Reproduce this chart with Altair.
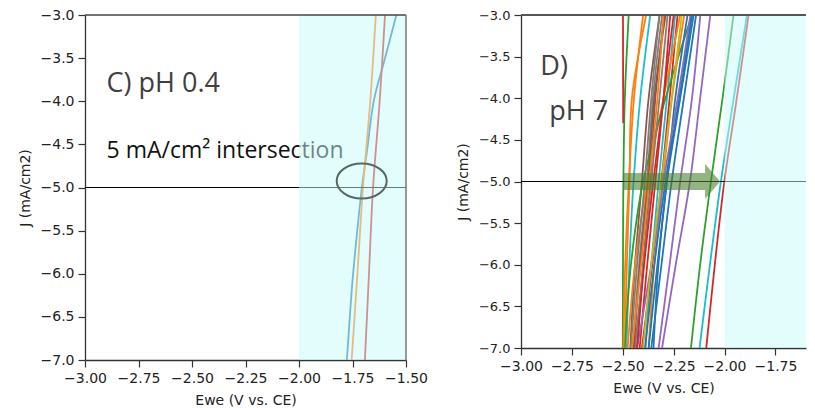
import altair as alt
import pandas as pd

# ---------------- Panel C (pH 0.4) ----------------
C_J_blue = [-3.0, -3.52, -3.99, -4.57, -5.0, -5.53, -6.11, -6.98, -7.0]
C_blue = [-1.545, -1.600, -1.650, -1.682, -1.706, -1.729, -1.751, -1.776, -1.777]
C_J = [-3.0, -4.0, -5.0, -6.0, -7.0]
C_orange = [-1.641, -1.667, -1.701, -1.727, -1.754]
C_red = [-1.598, -1.623, -1.654, -1.673, -1.692]

# ---------------- Panel D (pH 7) ----------------
D_J = [-3.0, -4.0, -5.0, -6.0, -7.0]
D_curves = [
    [-2.471, -2.490, -2.497, -2.499, -2.500],
    [-2.385, -2.455, -2.467, -2.480, -2.490],
    [-2.365, -2.414, -2.447, -2.468, -2.482],
    [-2.319, -2.373, -2.406, -2.440, -2.463],
    [-2.307, -2.352, -2.381, -2.420, -2.450],
    [-2.296, -2.340, -2.365, -2.400, -2.430],
    [-2.267, -2.300, -2.340, -2.380, -2.417],
    [-2.243, -2.283, -2.324, -2.360, -2.389],
    [-2.231, -2.270, -2.310, -2.355, -2.406],
    [-2.218, -2.300, -2.380, -2.440, -2.476],
    [-2.160, -2.290, -2.400, -2.460, -2.490],
    [-2.198, -2.258, -2.303, -2.345, -2.373],
    [-2.182, -2.242, -2.283, -2.330, -2.373],
    [-2.152, -2.218, -2.283, -2.325, -2.349],
    [-2.168, -2.230, -2.300, -2.360, -2.430],
    [-2.119, -2.160, -2.218, -2.270, -2.324],
    [-2.070, -2.120, -2.170, -2.240, -2.307],
    [-2.280, -2.320, -2.360, -2.400, -2.440],
    [-2.210, -2.260, -2.310, -2.360, -2.400],
    [-2.140, -2.200, -2.260, -2.310, -2.360],
    [-2.250, -2.300, -2.350, -2.395, -2.430],
    [-2.400, -2.445, -2.470, -2.488, -2.497],
    [-2.320, -2.360, -2.392, -2.430, -2.460],
    [-2.160, -2.222, -2.290, -2.345, -2.390],
    [-2.290, -2.345, -2.375, -2.415, -2.445],
    [-2.300, -2.330, -2.370, -2.410, -2.455],
    [-1.956, -2.010, -2.067, -2.120, -2.165],
    [-1.890, -1.955, -2.018, -2.072, -2.123],
    [-1.882, -1.940, -2.001, -2.048, -2.090],
]
D_colors = [
    "#2ca02c", "#ff7f0e", "#17becf", "#8c564b", "#7f7f7f", "#8c564b",
    "#d62728", "#17becf", "#d62728", "#ff7f0e", "#2ca02c", "#ff7f0e",
    "#1f77b4", "#1f77b4", "#9467bd", "#9467bd", "#9467bd", "#7f7f7f",
    "#bcbd22", "#1f77b4", "#d62728", "#ff7f0e", "#7f7f7f", "#1f77b4",
    "#8c564b", "#ff7f0e", "#2ca02c", "#17becf", "#d62728",
]
D_short_J = [-3.0, -4.3]
D_short_x = [-2.499, -2.498]

x_ticks_C = [-3.0, -2.75, -2.5, -2.25, -2.0, -1.75, -1.5]
x_ticks_D = [-3.0, -2.75, -2.5, -2.25, -2.0, -1.75]
y_ticks = [-7.0, -6.5, -6.0, -5.5, -5.0, -4.5, -4.0, -3.5, -3.0]

# ---------- build tables ----------
rows = []
for name, js, xs, col in [("blue", C_J_blue, C_blue, "#1f77b4"),
                          ("orange", C_J, C_orange, "#ff7f0e"),
                          ("red", C_J, C_red, "#d62728")]:
    for i, (j, x) in enumerate(zip(js, xs)):
        rows.append({"s": name, "i": i, "x": x, "y": j, "c": col})
dfC = pd.DataFrame(rows)

rows = []
for k, (xs, col) in enumerate(zip(D_curves, D_colors)):
    for i, (j, x) in enumerate(zip(D_J, xs)):
        rows.append({"s": f"d{k}", "i": i, "x": x, "y": j, "c": col})
for i, (j, x) in enumerate(zip(D_short_J, D_short_x)):
    rows.append({"s": "short", "i": i, "x": x, "y": j, "c": "#d62728"})
dfD = pd.DataFrame(rows)

one = pd.DataFrame({"a": [0]})

ELLIPSE = ("M 1 0 C 1 0.3866 0.5523 0.7 0 0.7 C -0.5523 0.7 -1 0.3866 -1 0 "
           "C -1 -0.3866 -0.5523 -0.7 0 -0.7 C 0.5523 -0.7 1 -0.3866 1 0 Z")
ARROW = ("M -1 -0.175 L 0.69 -0.175 L 0.69 -0.36 L 1 0 L 0.69 0.36 "
         "L 0.69 0.175 L -1 0.175 Z")

TEXT_FONT = "Open Sans"
TEXT_COLOR = "#404040"


def panels(df, xdom, xticks, span_end, label_size):
    xs = alt.Scale(domain=xdom, nice=False, zero=False)
    ys = alt.Scale(domain=[-7.0, -3.0], nice=False, zero=False)
    xax = alt.Axis(values=xticks, format=".2f", title="Ewe (V vs. CE)")
    yax = alt.Axis(values=y_ticks, format=".1f", title="J (mA/cm2)",
                   labelFontSize=label_size)
    lines = alt.Chart(df).mark_line(strokeWidth=1.8, clip=True,
                                    interpolate="catmull-rom").encode(
        x=alt.X("x:Q", scale=xs, axis=xax),
        y=alt.Y("y:Q", scale=ys, axis=yax),
        detail="s:N",
        order="i:Q",
        color=alt.Color("c:N", scale=None),
    )
    rule = alt.Chart(one).mark_rule(color="black", strokeWidth=1).encode(
        y=alt.Y(datum=-5.0, scale=ys),
        x=alt.X(datum=xdom[0], scale=xs),
        x2=alt.X2(datum=xdom[1]),
    )
    span = alt.Chart(one).mark_rect(fill="#c8fafa", opacity=0.5).encode(
        x=alt.X(datum=-2.0, scale=xs),
        x2=alt.X2(datum=span_end),
        y=alt.Y(datum=-7.0, scale=ys),
        y2=alt.Y2(datum=-3.0),
    )
    return xs, ys, lines, rule, span


# ---------------- left panel ----------------
xsC, ysC, linesC, ruleC, spanC = panels(dfC, [-3.0, -1.5], x_ticks_C, -1.5, 14)
txtC1 = alt.Chart(one).mark_text(font=TEXT_FONT, fontSize=27, color=TEXT_COLOR,
                                 align="left", baseline="alphabetic").encode(
    x=alt.X(datum=-2.899, scale=xsC), y=alt.Y(datum=-3.893, scale=ysC),
    text=alt.value("C) pH 0.4"))
txtC2 = alt.Chart(one).mark_text(font=TEXT_FONT, fontSize=23, color="#111111",
                                 align="left", baseline="alphabetic").encode(
    x=alt.X(datum=-2.899, scale=xsC), y=alt.Y(datum=-4.658, scale=ysC),
    text=alt.value("5 mA/cm² intersection"))
ell = alt.Chart(one).mark_point(shape=ELLIPSE, size=2500, filled=False,
                                stroke="#566a62", strokeWidth=2, opacity=1).encode(
    x=alt.X(datum=-1.707, scale=xsC), y=alt.Y(datum=-4.925, scale=ysC))
topC = alt.Chart(one).mark_rule(color="#444444", strokeWidth=1.5).encode(
    y=alt.Y(datum=-3.0, scale=ysC),
    x=alt.X(datum=-3.0, scale=xsC), x2=alt.X2(datum=-1.5))
rightC = alt.Chart(one).mark_rule(color="#777777", strokeWidth=1.5).encode(
    x=alt.X(datum=-1.5, scale=xsC),
    y=alt.Y(datum=-7.0, scale=ysC), y2=alt.Y2(datum=-3.0))

left = alt.layer(linesC, ruleC, txtC1, txtC2, spanC, ell, topC, rightC).properties(
    width=321, height=345, view=alt.ViewBackground(stroke=None))

# ---------------- right panel ----------------
xsD, ysD, linesD, ruleD, spanD = panels(dfD, [-3.0, -1.6], x_ticks_D, -1.6, 13)
arrow = alt.Chart(one).mark_point(shape=ARROW, size=9409, filled=True,
                                  fill="#4f8232", opacity=0.6, strokeWidth=0).encode(
    x=alt.X(datum=-2.26, scale=xsD), y=alt.Y(datum=-5.0, scale=ysD))
txtD1 = alt.Chart(one).mark_text(font=TEXT_FONT, fontSize=27, color=TEXT_COLOR,
                                 align="left", baseline="alphabetic").encode(
    x=alt.X(datum=-2.905, scale=xsD), y=alt.Y(datum=-3.725, scale=ysD),
    text=alt.value("D)"))
txtD2 = alt.Chart(one).mark_text(font=TEXT_FONT, fontSize=27, color=TEXT_COLOR,
                                 align="left", baseline="alphabetic").encode(
    x=alt.X(datum=-2.861, scale=xsD), y=alt.Y(datum=-4.266, scale=ysD),
    text=alt.value("pH 7"))
topD = alt.Chart(one).mark_rule(color="#555555", strokeWidth=2).encode(
    y=alt.Y(datum=-3.0, scale=ysD),
    x=alt.X(datum=-3.0, scale=xsD), x2=alt.X2(datum=-1.6))

right = alt.layer(linesD, ruleD, spanD, arrow, txtD1, txtD2, topD).properties(
    width=285, height=333, view=alt.ViewBackground(stroke=None))

chart = alt.hconcat(left, right, spacing=28).properties(
    padding={"left": 10, "top": 0, "right": 0, "bottom": 0},
    background="white",
).configure_axis(
    labelFont="DejaVu Sans", labelFontSize=14, labelColor="#222222",
    titleFont="DejaVu Sans", titleFontSize=14, titleFontWeight="normal",
    titleColor="#222222", tickColor="#333333", domainColor="#333333",
    tickSize=7, labelPadding=4, titlePadding=8, grid=False,
    domainWidth=1.3, tickWidth=1.2, labelFlush=False, labelOverlap=False,
).configure_view(stroke=None)

chart.save("out.html", embed_options={"renderer": "svg", "actions": False})
